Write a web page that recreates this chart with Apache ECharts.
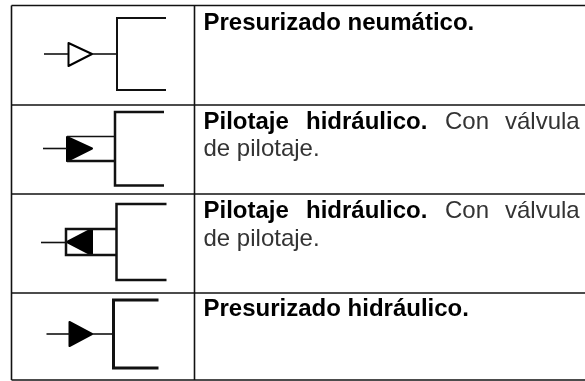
<!DOCTYPE html>
<html>
<head>
<meta charset="utf-8">
<style>html,body{margin:0;padding:0;background:#fff}#main{width:585px;height:381px}</style>
<script src="https://cdn.jsdelivr.net/npm/echarts@6/dist/echarts.min.js"></script>
</head>
<body>
<div id="main"></div>
<script>
// table rules, in diagram units
const tableLines = [
  [[11.5, 5.5], [585, 5.5]],
  [[11.5, 105], [585, 105]],
  [[11.5, 194], [585, 194]],
  [[11.5, 293], [585, 293]],
  [[11.5, 380], [585, 380]],
  [[11.5, 5.5], [11.5, 380]],
  [[194.5, 5.5], [194.5, 380]]
];

// thin strokes of the symbols
const thinLines = [
  [[44, 54], [68, 54]],
  [[92, 54], [117, 54]],
  [[43, 148.5], [67, 148.5]],
  [[67, 136.5], [115, 136.5]],
  [[41, 242.5], [66, 242.5]],
  [[46.5, 334], [70, 334]],
  [[92, 334], [113, 334]]
];

// brackets and pilot lines
const mediumLines = [
  [[166, 18], [117, 18], [117, 90], [166, 90]]
];
const thickLines = [
  [[164, 112], [115, 112], [115, 185.5], [164, 185.5]],
  [[67, 161], [115, 161]],
  [[166.5, 204], [116.5, 204], [116.5, 280], [166.5, 280]],
  [[116.5, 229], [66, 229], [66, 255], [116.5, 255]]
];
const heavyLines = [
  [[158.5, 300], [113.5, 300], [113.5, 368], [158.5, 368]]
];

const openTriangles = [
  [[68.5, 43], [92, 54], [68.5, 66]]
];

const filledTriangles = [
  [[67, 137], [92, 148.5], [67, 161]],
  [[67, 242], [92, 229], [92, 255]],
  [[69.5, 322], [92, 334], [69.5, 346]]
];

// y is the top of the first text line
const boldLabels = [
  ['Presurizado neumático.', 203.5, 11],
  ['Pilotaje', 203.5, 110],
  ['hidráulico.', 306, 110],
  ['Pilotaje', 203.5, 199],
  ['hidráulico.', 306, 199],
  ['Presurizado hidráulico.', 203.5, 297]
];
const plainLabels = [
  ['Con', 445, 110],
  ['válvula', 505, 110],
  ['de pilotaje.', 203.5, 137.5],
  ['Con', 445, 199],
  ['válvula', 505, 199],
  ['de pilotaje.', 203.5, 227]
];

const lineSeries = (rows, width) => rows.map(points => ({
  type: 'line',
  data: points,
  symbol: 'none',
  silent: true,
  animation: false,
  lineStyle: { color: '#111', width: width, join: 'miter' }
}));

const polySeries = (polys, fill) => ({
  type: 'custom',
  silent: true,
  animation: false,
  data: polys.map((p, i) => [i]),
  renderItem: (params, api) => ({
    type: 'polygon',
    shape: { points: polys[api.value(0)].map(p => api.coord(p)) },
    style: { fill: fill, stroke: '#000', lineWidth: 2, lineJoin: 'round' }
  })
});

const textSeries = (labels, weight, color) => ({
  type: 'custom',
  silent: true,
  animation: false,
  data: labels.map((r, i) => [i]),
  renderItem: (params, api) => {
    const r = labels[api.value(0)];
    const at = api.coord([r[1], r[2]]);
    return {
      type: 'text',
      x: at[0],
      y: at[1],
      style: {
        text: r[0],
        fontFamily: '"Liberation Sans", Arial, sans-serif',
        fontSize: 24,
        fontWeight: weight,
        fill: color
      }
    };
  }
});

const chart = echarts.init(document.getElementById('main'), null, { renderer: 'canvas' });
chart.setOption({
  backgroundColor: '#ffffff',
  animation: false,
  grid: { left: 0, right: 0, top: 0, bottom: 0 },
  xAxis: { type: 'value', min: 0, max: 585, show: false },
  yAxis: { type: 'value', min: 0, max: 381, inverse: true, show: false },
  series: [
    ...lineSeries(tableLines, 1.6),
    ...lineSeries(thinLines, 1.6),
    ...lineSeries(mediumLines, 2),
    ...lineSeries(thickLines, 2.5),
    ...lineSeries(heavyLines, 3),
    polySeries(openTriangles, '#ffffff'),
    polySeries(filledTriangles, '#000000'),
    textSeries(boldLabels, 'bold', '#000'),
    textSeries(plainLabels, 'normal', '#333')
  ]
});
</script>
</body>
</html>
